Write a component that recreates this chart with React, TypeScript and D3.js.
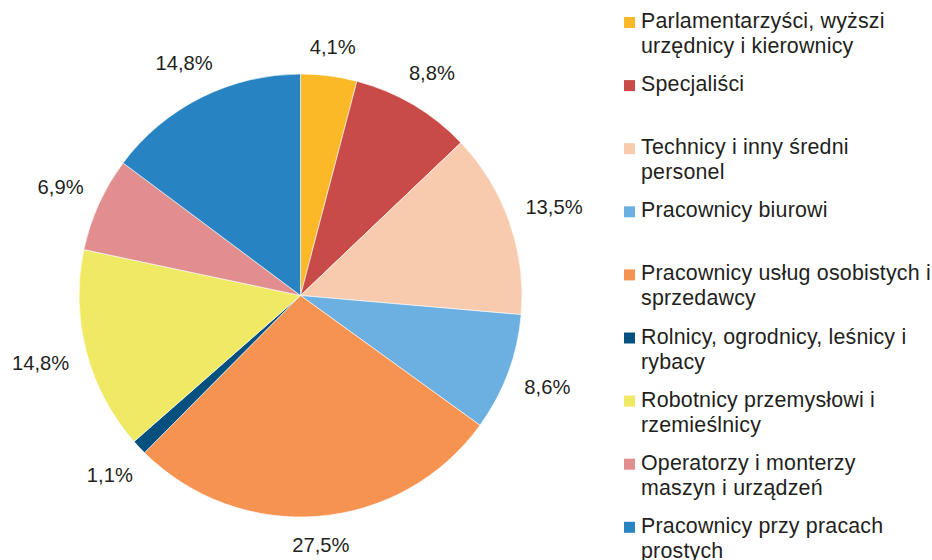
import React from "react";
import * as d3 from "d3";

const categories: string[][] = [
  ["Parlamentarzyści, wyższi", "urzędnicy i kierownicy"],
  ["Specjaliści"],
  ["Technicy i inny średni", "personel"],
  ["Pracownicy biurowi"],
  ["Pracownicy usług osobistych i", "sprzedawcy"],
  ["Rolnicy, ogrodnicy, leśnicy i", "rybacy"],
  ["Robotnicy przemysłowi i", "rzemieślnicy"],
  ["Operatorzy i monterzy", "maszyn i urządzeń"],
  ["Pracownicy przy pracach", "prostych"],
];
const values: number[] = [4.1, 8.8, 13.5, 8.6, 27.5, 1.1, 14.8, 6.9, 14.8];
const labels: string[] = ["4,1%", "8,8%", "13,5%", "8,6%", "27,5%", "1,1%", "14,8%", "6,9%", "14,8%"];
const colors: string[] = [
  "#FBB927", "#C84B48", "#F9CBAE", "#6BB0E0", "#F79351",
  "#04507F", "#EFE964", "#E28D8E", "#2883C2",
];

const W = 932, H = 560;
const CX = 300.5, CY = 295.5, R = 221.5;
const FONT = "'Liberation Sans', Arial, sans-serif";
const TEXT = "#231F20";

export default function App() {
  const pie = d3.pie<number>().sort(null).value((d) => d);
  const arcs = pie(values);
  const arc = d3.arc<d3.PieArcDatum<number>>().innerRadius(0).outerRadius(R);
  const fs = 20.2;
  const lfs = 21.4;
  const measure = (s: string) => {
    let w = 0;
    for (const ch of s) w += ch === "," ? 0.278 : ch === "%" ? 0.889 : 0.556;
    return w * fs;
  };
  return (
    <svg width={W} height={H} style={{ position: "absolute", left: 0, top: 0 }}>
      <rect width={W} height={H} fill="#fff" />
      <g transform={`translate(${CX},${CY})`}>
        {arcs.map((a, i) => (
          <path key={i} d={arc(a) || ""} fill={colors[i]} stroke="#fff" strokeWidth={0.6} />
        ))}
        {arcs.map((a, i) => {
          const mid = (a.startAngle + a.endAngle) / 2;
          const s = Math.sin(mid), c = Math.cos(mid);
          const hw = measure(labels[i]) / 2, hh = 9.5;
          const r = R + 17 + hw * Math.abs(s) + hh * Math.abs(c);
          const x = r * s, y = -r * c;
          return (
            <text key={i} x={x} y={y + 7} textAnchor="middle" fontFamily={FONT}
              fontSize={fs} fill={TEXT}>{labels[i]}</text>
          );
        })}
      </g>
      <g>
        {categories.map((lines, i) => {
          const base = 28 + 63.1 * i;
          return (
            <g key={i}>
              <rect x={624} y={base - 11} width={11} height={11} fill={colors[i]} />
              {lines.map((ln, j) => (
                <text key={j} x={641} y={base + 25 * j} fontFamily={FONT} fontSize={lfs}
                  letterSpacing={0.2} fill={TEXT}>{ln}</text>
              ))}
            </g>
          );
        })}
      </g>
    </svg>
  );
}
